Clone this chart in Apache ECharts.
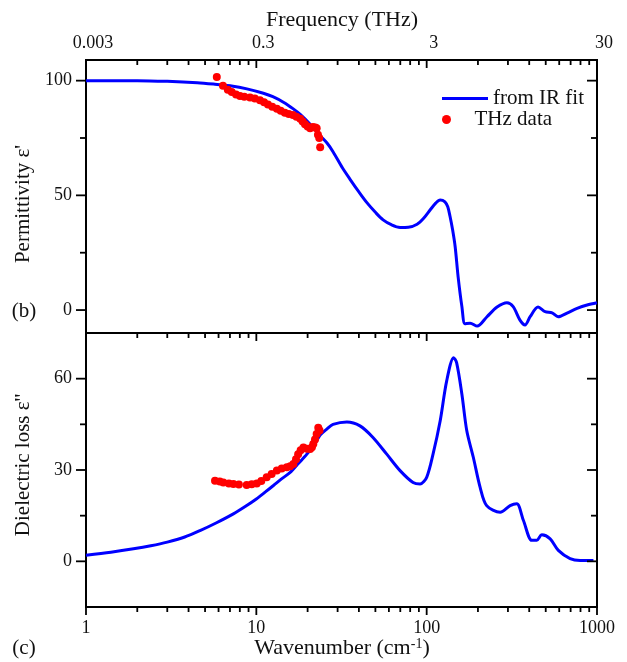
<!DOCTYPE html>
<html lang="en">
<head>
    <meta charset="UTF-8">
    <title>Permittivity and dielectric loss</title>
    <script src="https://cdn.jsdelivr.net/npm/echarts@6/dist/echarts.min.js"></script>
    <style>
        html, body { margin: 0; padding: 0; background: #fff; }
        #chart { width: 627px; height: 662px; }
    </style>
</head>
<body>
<div id="chart"></div>
<script>
    // wavenumber (cm-1) and eps' from the IR fit (upper panel)
    const fitWaveTop = [1, 2, 3, 4.5, 5.6, 7.3, 8.8, 11, 12.5, 14.5, 16.4, 18.1, 20.7, 23.7, 26, 28.2, 32, 35.5, 40, 44.7,
        50, 55.5, 62, 69.8, 78, 87.9, 96, 105, 113, 120, 128, 133, 137, 142, 147, 153, 161, 168, 180, 198,
        226, 259, 296, 322, 353, 378, 405, 451, 496, 545, 591, 667, 764, 875, 1000];
    const fitEpsReal = [100, 100, 99.7, 99.1, 98.5, 97.6, 96.4, 94.5, 93, 90.5, 87.8, 85.3, 81, 76, 72.8, 69, 62, 57, 51.5, 46.7,
        42.6, 39.3, 37.2, 36, 36.1, 37.4, 40, 43.7, 46.6, 48, 47.2, 45, 41, 35, 27.6, 14.5, 1.5, -6, -5.7, -7,
        -2.9, 1.3, 3.2, 1.5, -4.4, -6.5, -2.9, 1.3, -0.7, -1.2, -2.9, -1.3, 0.7, 2.2, 3.2];

    // eps'' from the IR fit (lower panel)
    const fitWaveBottom = [1, 1.4, 1.9, 2.4, 3, 3.8, 4.67, 5.8, 7.33, 8.6, 10, 11.3, 12.6, 14, 15.8, 17.7, 19.8, 22.6, 23.7, 26,
        28.2, 34, 40.6, 48.4, 58.3, 69.8, 83.2, 91.5, 100, 109, 120, 131, 144, 150, 161, 172, 188, 206, 225, 270,
        309, 338, 370, 414, 443, 474, 531, 593, 695, 796, 953];
    const fitEpsImag = [2, 3, 4.1, 5.1, 6.3, 8, 10.1, 12.6, 15.6, 18, 20.5, 22.8, 24.9, 27, 29.2, 32.2, 35.2, 39.6, 41.5, 43.5,
        45, 45.8, 44.5, 40.7, 35.2, 29.8, 25.9, 25.4, 27.6, 35.2, 46.1, 59.2, 66.9, 65.2, 54.9, 42.9, 34.1, 24.3, 18.3, 16.1,
        18.3, 18.9, 13.4, 6.9, 6.9, 8.7, 7.4, 3.6, 0.9, 0.3, 0.3];

    // THz measurements
    const thzWaveTop = [5.86, 6.37, 6.8, 7.17, 7.6, 8.02, 8.5, 9.18, 9.8, 10.5, 11.1, 11.7, 12.4, 13.2, 13.9, 14.7, 15.5,
        16.4, 17.2, 18.1, 18.7, 19.3, 20, 20.7, 21.5, 22.2, 22.6, 23, 23.4, 23.7];
    const thzEpsReal = [101.6, 97.8, 96, 95, 94, 93.3, 93, 92.7, 92.2, 91.5, 90.6, 89.6, 88.6, 87.8, 86.9, 86, 85.5,
        85, 84.3, 83.4, 82.2, 81, 80, 79.3, 79.8, 79.6, 79.2, 76.4, 75, 71];
    const thzWaveBottom = [5.72, 6.1, 6.4, 6.9, 7.33, 7.9, 8.78, 9.4, 10.06, 10.7, 11.5, 12.3, 13.2, 14.1, 15.1, 15.8,
        16.5, 17.1, 17.6, 18.2, 18.9, 19.8, 20.7, 21.2, 21.6, 22.1, 22.6, 23.1, 23.5];
    const thzEpsImag = [26.5, 26.2, 25.9, 25.6, 25.4, 25.2, 25.1, 25.3, 25.6, 26.4, 27.6, 28.7, 29.8, 30.5, 30.9, 31.2,
        32, 33.5, 35.2, 36.5, 37.4, 37, 36.9, 37.5, 38.5, 40, 41.8, 43.9, 43];

    // axis ticks
    const waveMajorTicks = [1, 10, 100, 1000];
    const freqTickLabels = ['0.003', '0.3', '3', '30'];
    const topMajorTicks = [0, 50, 100];
    const topMinorTicks = [25, 75];
    const bottomMajorTicks = [0, 30, 60];
    const bottomMinorTicks = [15, 45];

    const waveMinorTicks = [];
    for (let d = 1; d < 1000; d *= 10) {
        for (let k = 2; k <= 9; k++) waveMinorTicks.push(k * d);
    }

    const TOP_Y = [-10, 109];
    const BOT_Y = [-15, 75];

    const zip = (xs, ys) => xs.map((x, i) => [x, ys[i]]);
    const FONT = 'Liberation Serif';
    const INK = '#111';
    const BLUE = '#0000ff';
    const RED = '#ff0000';

    const chart = echarts.init(document.getElementById('chart'));
    const labelStyle = { color: INK, fontFamily: FONT, fontSize: 18 };

    const titles = [
        { type: 'text', x: 342, y: 20, style: { text: 'Frequency (THz)', font: '22px "Liberation Serif"', fill: INK, align: 'center', verticalAlign: 'middle' } },
        { type: 'text', x: 342, y: 648, style: {
            text: 'Wavenumber (cm{sup|-1})', font: '22px "Liberation Serif"', fill: INK, align: 'center', verticalAlign: 'middle',
            rich: { sup: { font: '14px "Liberation Serif"', fill: INK, verticalAlign: 'top' } } } },
        { type: 'text', x: 23, y: 204, rotation: Math.PI / 2, style: { text: "Permittivity \u03b5'", font: '21px "Liberation Serif"', fill: INK, align: 'center', verticalAlign: 'middle' } },
        { type: 'text', x: 23, y: 465, rotation: Math.PI / 2, style: { text: "Dielectric loss \u03b5''", font: '21px "Liberation Serif"', fill: INK, align: 'center', verticalAlign: 'middle' } },
        { type: 'text', x: 24, y: 311, style: { text: '(b)', font: '21px "Liberation Serif"', fill: INK, align: 'center', verticalAlign: 'middle' } },
        { type: 'text', x: 24, y: 648, style: { text: '(c)', font: '21px "Liberation Serif"', fill: INK, align: 'center', verticalAlign: 'middle' } }
    ];

    const option = {
        animation: false,
        textStyle: { fontFamily: FONT, color: INK },
        grid: [
            { left: 86, right: 30, top: 60, height: 273, show: true, borderColor: '#000', borderWidth: 2 },
            { left: 86, right: 30, top: 333, height: 274, show: true, borderColor: '#000', borderWidth: 2 }
        ],
        xAxis: [
            { type: 'log', gridIndex: 0, min: 1, max: 1000, position: 'bottom',
                axisLine: { show: false }, axisTick: { show: false }, axisLabel: { show: false }, splitLine: { show: false } },
            { type: 'log', gridIndex: 0, min: 1, max: 1000, position: 'top',
                axisLine: { show: false }, axisTick: { show: false }, splitLine: { show: false },
                axisLabel: Object.assign({}, labelStyle, { margin: 8, padding: [0, 0, 0, 14],
                    formatter: v => freqTickLabels[Math.round(Math.log10(v))] }) },
            { type: 'log', gridIndex: 1, min: 1, max: 1000, position: 'bottom',
                axisLine: { show: false }, axisTick: { show: false }, splitLine: { show: false },
                axisLabel: Object.assign({}, labelStyle, { margin: 12, formatter: v => String(Math.round(v)) }) }
        ],
        yAxis: [
            { type: 'value', gridIndex: 0, min: TOP_Y[0], max: TOP_Y[1],
                axisLine: { show: false }, axisTick: { show: false }, splitLine: { show: false },
                axisLabel: Object.assign({}, labelStyle, { margin: 14, customValues: topMajorTicks }) },
            { type: 'value', gridIndex: 1, min: BOT_Y[0], max: BOT_Y[1],
                axisLine: { show: false }, axisTick: { show: false }, splitLine: { show: false },
                axisLabel: Object.assign({}, labelStyle, { margin: 14, customValues: bottomMajorTicks }) }
        ],
        legend: [
            { data: [{ name: 'from IR fit', icon: 'rect' }], left: 437, top: 83, itemWidth: 46, itemHeight: 3,
                textStyle: { fontFamily: FONT, fontSize: 21, color: INK } },
            { data: [{ name: 'THz data', icon: 'circle' }], left: 437, top: 104, itemWidth: 46, itemHeight: 9,
                textStyle: { fontFamily: FONT, fontSize: 21, color: INK } }
        ],
        series: [
            { name: 'from IR fit', type: 'line', xAxisIndex: 0, yAxisIndex: 0, data: zip(fitWaveTop, fitEpsReal),
                symbol: 'none', smooth: 0.3, lineStyle: { color: BLUE, width: 3 }, itemStyle: { color: BLUE }, z: 3 },
            { name: 'from IR fit', type: 'line', xAxisIndex: 2, yAxisIndex: 1, data: zip(fitWaveBottom, fitEpsImag),
                symbol: 'none', smooth: 0.3, lineStyle: { color: BLUE, width: 3 }, itemStyle: { color: BLUE }, z: 3 },
            { name: 'THz data', type: 'scatter', xAxisIndex: 0, yAxisIndex: 0, data: zip(thzWaveTop, thzEpsReal),
                symbolSize: 8, itemStyle: { color: RED, opacity: 1 }, z: 4 },
            { name: 'THz data', type: 'scatter', xAxisIndex: 2, yAxisIndex: 1, data: zip(thzWaveBottom, thzEpsImag),
                symbolSize: 8, itemStyle: { color: RED, opacity: 1 }, z: 4 }
        ],
        graphic: titles
    };

    chart.setOption(option);

    // Origin-style ticks placed through the axes' own scales: x ticks hang down, y ticks point left
    const tickMarks = [];
    function seg(x1, y1, x2, y2) {
        tickMarks.push({ type: 'line', silent: true, z: 10,
            shape: { x1: x1, y1: y1, x2: x2, y2: y2 }, style: { stroke: '#000', lineWidth: 1.8 } });
    }
    function panelTicks(xIdx, yIdx, yRange, yMajor, yMinor, edges) {
        const px = w => chart.convertToPixel({ xAxisIndex: xIdx }, w);
        const py = v => chart.convertToPixel({ yAxisIndex: yIdx }, v);
        const xl = px(1), xr = px(1000);
        edges.forEach(edge => {
            const y = py(edge === 'top' ? yRange[1] : yRange[0]);
            waveMajorTicks.forEach(w => seg(px(w), y, px(w), y + 8));
            waveMinorTicks.forEach(w => seg(px(w), y, px(w), y + 5));
        });
        yMajor.forEach(v => { seg(xl, py(v), xl - 10, py(v)); seg(xr, py(v), xr - 10, py(v)); });
        yMinor.forEach(v => { seg(xl, py(v), xl - 6, py(v)); seg(xr, py(v), xr - 6, py(v)); });
    }
    panelTicks(0, 0, TOP_Y, topMajorTicks, topMinorTicks, ['top']);
    panelTicks(2, 1, BOT_Y, bottomMajorTicks, bottomMinorTicks, ['top', 'bottom']);

    chart.setOption({ graphic: titles.concat(tickMarks) });
</script>
</body>
</html>
